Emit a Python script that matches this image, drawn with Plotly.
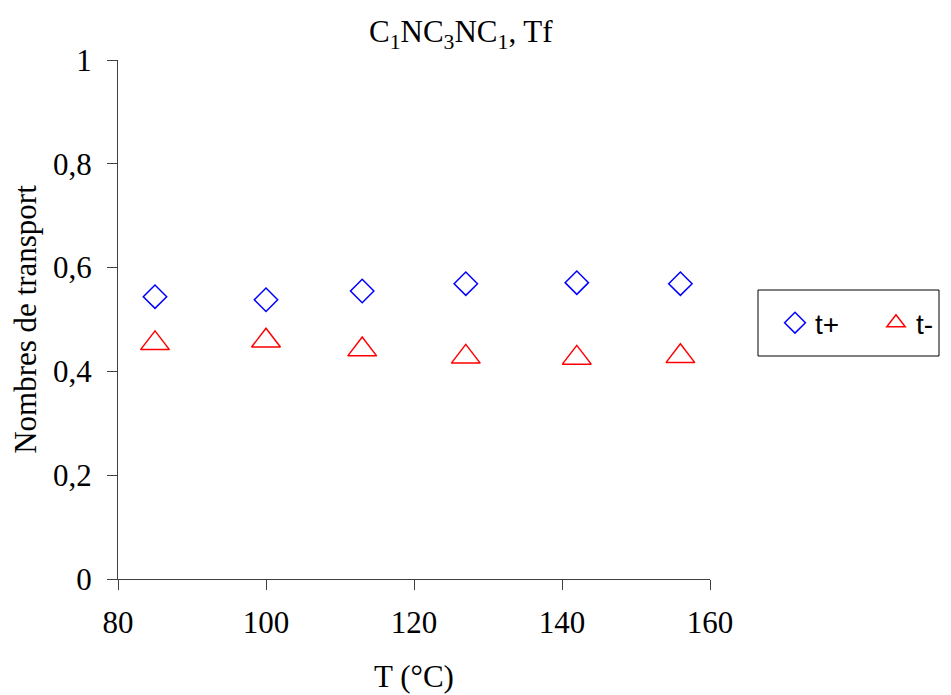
import plotly.graph_objects as go

temperature = [85, 100, 113, 127, 142, 156]
t_plus = [0.544, 0.538, 0.555, 0.569, 0.571, 0.569]
t_minus = [0.454, 0.459, 0.442, 0.428, 0.426, 0.429]
x_ticks = [80, 100, 120, 140, 160]
y_ticks = [0, 0.2, 0.4, 0.6, 0.8, 1]
y_ticklabels = ["0", "0,2", "0,4", "0,6", "0,8", "1"]

serif = "Liberation Serif, Times New Roman, serif"
sans = "Liberation Sans, Arial, sans-serif"

W, H = 943, 687
L, R, T, B = 110, 241, 52, 116
pw, ph = W - L - R, H - T - B


def px_x(p):
    return (p - L) / pw


def px_y(p):
    return (H - B - p) / ph


fig = go.Figure()
fig.add_trace(go.Scatter(
    x=temperature, y=t_plus, mode="markers", name="t+",
    marker=dict(symbol="diamond-open", size=18, color="#0000FF",
                line=dict(width=1.5, color="#0000FF")),
))
fig.add_trace(go.Scatter(
    x=temperature, y=t_minus, mode="markers", name="t-",
    marker=dict(symbol="triangle-up-open", size=25, color="#FF0000",
                line=dict(width=1.5, color="#FF0000")),
))

fig.update_layout(
    width=W, height=H,
    margin=dict(l=L, r=R, t=T, b=B, autoexpand=False),
    paper_bgcolor="white", plot_bgcolor="white",
    showlegend=True,
    legend=dict(
        orientation="h", x=px_x(767), y=px_y(315), xanchor="left", yanchor="middle",
        borderwidth=0, bgcolor="rgba(0,0,0,0)",
        font=dict(family=sans, size=28, color="black"),
        itemsizing="trace", entrywidth=56,
    ),
    shapes=[
        dict(type="rect", xref="paper", yref="paper",
             x0=px_x(750), x1=px_x(931), y0=px_y(348), y1=px_y(282),
             line=dict(color="black", width=1), fillcolor="rgba(0,0,0,0)"),
    ],
    annotations=[
        dict(text="C<sub>1</sub>NC<sub>3</sub>NC<sub>1</sub>, Tf",
             xref="paper", yref="paper", x=px_x(453), y=px_y(26),
             xanchor="center", yanchor="middle", showarrow=False,
             font=dict(family=serif, size=31, color="black")),
    ],
)
fig.update_xaxes(
    range=[80, 160], tickvals=x_ticks, ticktext=[str(v) for v in x_ticks],
    showgrid=False, zeroline=False, showline=True, linecolor="#404040", linewidth=1,
    ticks="outside", ticklen=10, tickcolor="#404040", tickwidth=1,
    ticklabelstandoff=6,
    tickfont=dict(family=serif, size=31, color="black"),
    title=dict(text="T (°C)", font=dict(family=serif, size=31, color="black"), standoff=26),
)
fig.update_yaxes(
    range=[0, 1], tickvals=y_ticks, ticktext=y_ticklabels,
    showgrid=False, zeroline=False, showline=True, linecolor="#404040", linewidth=1,
    ticks="outside", ticklen=10, tickcolor="#404040", tickwidth=1,
    ticklabelstandoff=9,
    tickfont=dict(family=serif, size=31, color="black"),
    title=dict(text="Nombres de transport", font=dict(family=serif, size=31, color="black"), standoff=14),
)

fig.write_html("out.html")
